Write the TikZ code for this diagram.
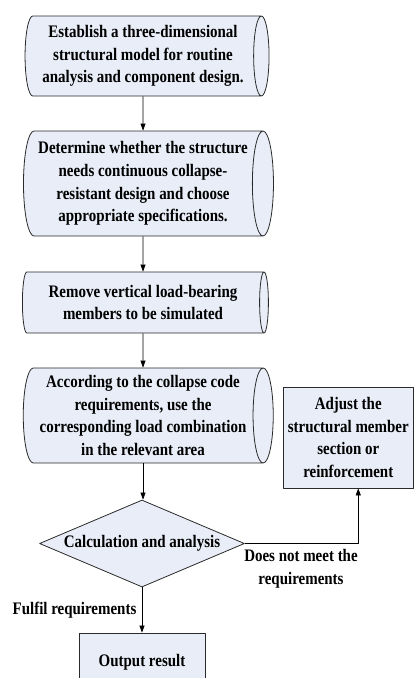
\documentclass[tikz,border=0pt]{standalone}
\usepackage{fontspec}
\setmainfont{Liberation Serif}[FakeStretch=0.85]
\usetikzlibrary{arrows.meta,shapes.geometric}
\definecolor{ink}{HTML}{2A2A2A}
\definecolor{boxfill}{HTML}{E8EDF7}

\begin{document}
\begin{tikzpicture}[
  x=1pt,y=-1pt,
  font=\fontsize{17.6}{22.8}\selectfont\bfseries,
  line join=round,
  % for a lying cylinder: minimum height = length, minimum width = thickness
  drum/.style={shape=cylinder,shape border rotate=0,aspect=0.25,draw=ink,line width=.8pt,
    fill=boxfill,align=center,minimum height=244pt,inner sep=0pt},
  plainbox/.style={rectangle,draw=ink,line width=.8pt,fill=boxfill,align=center,inner sep=0pt},
  check/.style={diamond,draw=ink,line width=.8pt,fill=boxfill,aspect=2.36,inner sep=0pt,
    minimum width=205pt,minimum height=87pt},
  flow/.style={-{Triangle[length=7pt,width=5pt]},line width=.6pt,draw=black},
  remark/.style={align=center,inner sep=0pt}
]
\useasboundingbox (0,0) rectangle (415,678);
\clip (0,0) rectangle (415,678);

% Main column of process steps
\node[drum,minimum width=80pt] (model) at (143,56)
  {Establish a three-dimensional\\structural model for routine\\analysis and component design.};
\node[drum,minimum width=105pt,minimum height=250pt] (judge) at (143,183.5)
  {Determine whether the structure\\needs continuous collapse-\\resistant design and choose\\appropriate specifications.};
\node[drum,minimum width=61pt,minimum height=246pt] (remove) at (143,302.5)
  {Remove vertical load-bearing\\members to be simulated};
\node[drum,minimum width=95pt,minimum height=250pt] (load) at (143,415.5)
  {According to the collapse code\\requirements, use the\\corresponding load combination\\in the relevant area};
\node[check] (calc) at (142,543.5) {Calculation and analysis};
\node[plainbox,minimum width=126pt,minimum height=58pt] (output) at (142,662) {Output result};

% Side branch
\node[plainbox,minimum width=130.5pt,minimum height=101pt] (adjust) at (348.25,437.5)
  {Adjust the\\structural member\\section or\\reinforcement};

\draw[flow] (model.south) -- (judge.north);
\draw[flow] (judge.south) -- (remove.north);
\draw[flow] (remove.south) -- (load.north);
\draw[flow] (load.south) -- (load.south |- calc.north);
\draw[flow] (calc.south) -- (output.north);
\draw[flow] (calc.east) -| ([xshift=10pt]adjust.south);

\node[remark] (fail) at (301,569) {Does not meet the\\requirements};
\node[remark] (pass) at (74.5,610) {Fulfil requirements};
\end{tikzpicture}
\end{document}
